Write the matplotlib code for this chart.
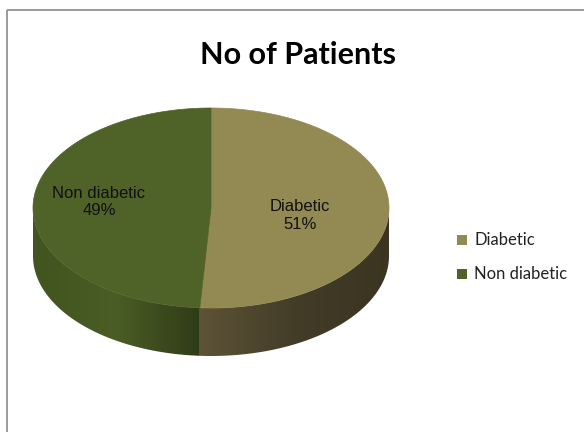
import numpy as np
import matplotlib
matplotlib.use("Agg")
import matplotlib.pyplot as plt
from matplotlib.patches import Polygon, Rectangle
from matplotlib.colors import to_rgb

# ---- data ----
labels = ["Diabetic", "Non diabetic"]
values = [51, 49]
top_colors = ["#938953", "#4F6228"]
# side gradient colours (left end -> middle -> right end of each slice's visible wall)
side_left = ["#5d5337", "#42541f"]
side_mid = ["#433c27", "#4a5d25"]
side_right = ["#3a3421", "#2f3b17"]

# ---- layout (pixel space) ----
W, H = 584, 432
cx, cy, rx, ry, depth = 211.0, 208.0, 178.0, 100.0, 48.0

fig = plt.figure(figsize=(W / 100, H / 100), dpi=100)
ax = fig.add_axes([0, 0, 1, 1])
ax.set_xlim(0, W)
ax.set_ylim(H, 0)
ax.axis("off")

# chart frame
ax.add_patch(Rectangle((6.5, 9.5), W, H, fill=False, edgecolor="#8a8a8a", lw=1.2))

def pt(theta_deg, dy=0.0):
    t = np.radians(theta_deg)
    return cx + rx * np.sin(t), cy - ry * np.cos(t) + dy

total = float(sum(values))
angles = np.cumsum([0] + [v / total * 360 for v in values])

# side walls (front half, theta in [90, 270]) with horizontal gradient
for i in range(len(values)):
    a0, a1 = max(angles[i], 90), min(angles[i + 1], 270)
    if a1 <= a0:
        continue
    ts = np.linspace(a0, a1, 300)
    top = [pt(t) for t in ts]
    bot = [pt(t, depth) for t in ts[::-1]]
    poly = Polygon(top + bot, closed=True, facecolor="none", edgecolor="none")
    ax.add_patch(poly)
    xs = [p[0] for p in top]
    ys = [p[1] for p in top + bot]
    xmin, xmax = min(xs), max(xs)
    ymin, ymax = min(ys), max(ys)
    nx = 256
    f = np.linspace(0, 1, nx)
    cl, cm, cr = (np.array(to_rgb(c)) for c in (side_left[i], side_mid[i], side_right[i]))
    grad = np.where(f[:, None] < 0.5,
                    cl + (cm - cl) * (f[:, None] / 0.5),
                    cm + (cr - cm) * ((f[:, None] - 0.5) / 0.5))
    img = np.tile(grad[None, :, :], (2, 1, 1))
    im = ax.imshow(img, extent=(xmin - 0.5, xmax + 0.5, ymax + 0.5, ymin - 0.5),
                   aspect="auto", interpolation="bilinear", zorder=1)
    im.set_clip_path(poly)

# top faces
for i in range(len(values)):
    ts = np.linspace(angles[i], angles[i + 1], 200)
    poly = [(cx, cy)] + [pt(t) for t in ts]
    ax.add_patch(Polygon(poly, closed=True, facecolor=top_colors[i],
                         edgecolor=top_colors[i], lw=0.5, zorder=2))

# data labels
label_r = [0.50, 0.63]
label_dy = [6, -4]
for i in range(len(values)):
    mid = 0.5 * (angles[i] + angles[i + 1])
    t = np.radians(mid)
    x = cx + label_r[i] * rx * np.sin(t)
    y = cy - label_r[i] * ry * np.cos(t) + label_dy[i]
    ax.text(x, y, f"{labels[i]}\n{values[i]:.0f}%", ha="center", va="center",
            fontsize=12, family=["Liberation Sans", "DejaVu Sans"],
            color="#111111", linespacing=1.2, zorder=3)

# title
ax.text(298, 55, "No of Patients", ha="center", va="center", fontsize=22,
        fontweight="bold", family=["Lato", "DejaVu Sans"], color="black")

# legend
leg_y = [240, 274]
for i in range(len(values)):
    ax.add_patch(Rectangle((457, leg_y[i] - 5), 10, 10, facecolor=top_colors[i],
                           edgecolor="none"))
    ax.text(474, leg_y[i], labels[i], ha="left", va="center", fontsize=12,
            family=["Lato", "DejaVu Sans"], color="#222222")

fig.savefig("out.png", dpi=100)
